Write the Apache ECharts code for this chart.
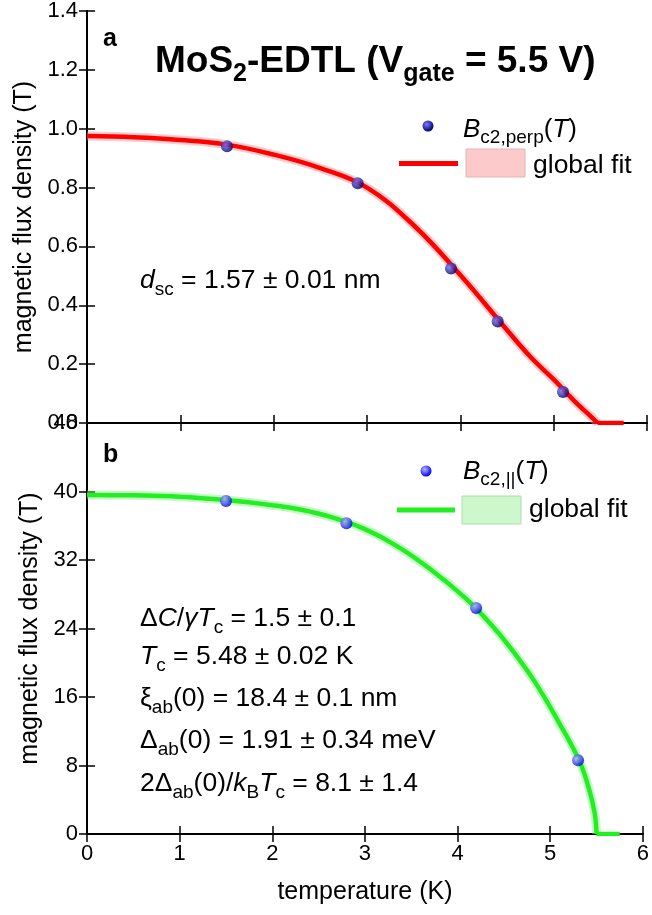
<!DOCTYPE html>
<html>
<head>
<meta charset="utf-8">
<script src="https://cdn.jsdelivr.net/npm/echarts@6/dist/echarts.min.js"></script>
<style>
  html, body { margin: 0; padding: 0; background: #fff; }
  #chart { width: 652px; height: 915px; }
</style>
</head>
<body>
<div id="chart"></div>
<script>
// measured points, panel a (perpendicular field)
var perpT = [1.5, 2.9, 3.9, 4.4, 5.1];
var perpB = [0.94, 0.815, 0.525, 0.345, 0.105];
// global fit curve, panel a
var fitPerpT = [0, 0.5, 1, 1.5, 2, 2.5, 3, 3.5, 4, 4.5, 4.75, 5, 5.1, 5.25, 5.4, 5.47];
var fitPerpB = [0.975, 0.971, 0.962, 0.946, 0.912, 0.866, 0.80, 0.672, 0.503, 0.316, 0.225, 0.148, 0.115, 0.066, 0.022, 0];
var tailPerpT = [5.47, 5.75];
var tailPerpB = [0, 0];

// measured points, panel b (parallel field)
var parT = [1.5, 2.8, 4.2, 5.3];
var parB = [38.9, 36.3, 26.4, 8.6];
// global fit curve, panel b
var fitParT = [0, 0.5, 1, 1.5, 2, 2.3, 2.64, 3.0, 3.35, 3.71, 4.07, 4.3, 4.53, 4.82, 5.1, 5.32, 5.42, 5.48, 5.5];
var fitParB = [39.6, 39.55, 39.4, 39.0, 38.4, 37.9, 37.0, 35.6, 33.6, 30.9, 27.7, 25.2, 22.3, 18.0, 12.9, 8.4, 5.2, 2.4, 0];
var tailParT = [5.5, 5.75];
var tailParB = [0, 0];

// ticks
var tempTicks = [0, 6, 1];      // min, max, step
var perpTicks = [0, 1.4, 0.2];
var parTicks = [0, 48, 8];

var FONT = '"Liberation Sans", Arial, sans-serif';

function pairs(xs, ys) {
  return xs.map(function (x, i) { return [x, ys[i]]; });
}

var chart = echarts.init(document.getElementById('chart'));

var line = { show: true, lineStyle: { color: '#000', width: 2 } };
var tick = { show: true, inside: true, length: 8, lineStyle: { color: '#000', width: 1.5 } };

function xAx(grid, pos, labels) {
  return {
    type: 'value', gridIndex: grid, position: pos,
    min: tempTicks[0], max: tempTicks[1], interval: tempTicks[2],
    axisLine: line, axisTick: tick, splitLine: { show: false },
    axisLabel: { show: labels, color: '#000', fontFamily: FONT, fontSize: 22, margin: 9 },
    name: labels ? 'temperature (K)' : '', nameLocation: 'middle', nameGap: 46,
    nameTextStyle: { color: '#000', fontFamily: FONT, fontSize: 25 }
  };
}
function yAx(grid, pos, t, labels, fmt) {
  return {
    type: 'value', gridIndex: grid, position: pos,
    min: t[0], max: t[1], interval: t[2],
    axisLine: line, axisTick: tick, splitLine: { show: false },
    axisLabel: { show: labels, color: '#000', fontFamily: FONT, fontSize: 22, margin: 9,
      showMinLabel: true, showMaxLabel: true, formatter: fmt },
    name: labels ? 'magnetic flux density (T)' : '', nameLocation: 'middle', nameGap: 44,
    nameTextStyle: { color: '#000', fontFamily: FONT, fontSize: 25 }
  };
}

function ball(dark, light) {
  return {
    type: 'radial', x: 0.38, y: 0.35, r: 0.65,
    colorStops: [{ offset: 0, color: light }, { offset: 1, color: dark }]
  };
}
var navyBall = ball('#000070', '#7a7aff');
var blueBall = ball('#0000ee', '#b8b8ff');

// rich text helper: baseline y given, main size S, sub size s, line height L
function rtext(x, base, text, S, s, L, bold) {
  var w = bold ? 'bold' : 'normal';
  return {
    type: 'text', x: x, y: base - (L / 2 + 0.31 * S), silent: true,
    style: {
      text: text, align: 'left', verticalAlign: 'top',
      textAlign: 'left', textVerticalAlign: 'top',
      rich: {
        n: { fontFamily: FONT, fontSize: S, fontWeight: w, lineHeight: L, verticalAlign: 'middle', color: '#000' },
        i: { fontFamily: FONT, fontSize: S, fontWeight: w, fontStyle: 'italic', lineHeight: L, verticalAlign: 'middle', color: '#000' },
        s: { fontFamily: FONT, fontSize: s, fontWeight: w, lineHeight: s, verticalAlign: 'bottom', color: '#000' }
      }
    }
  };
}

var graphics = [
  rtext(103, 47, '{n|a}', 25, 16, 30, true),
  rtext(155, 73, '{n|MoS}{s|2}{n|-EDTL (V}{s|gate}{n| = 5.5 V)}', 37, 25, 50, true),
  // legend a
  { type: 'circle', shape: { cx: 428, cy: 126, r: 5.5 }, style: { fill: navyBall }, silent: true },
  rtext(463, 138, '{i|B}{s|c2,perp}{n|(}{i|T}{n|)}', 26, 19, 34),
  { type: 'line', shape: { x1: 399, y1: 163.5, x2: 458, y2: 163.5 }, style: { stroke: '#ff0000', lineWidth: 5 }, silent: true },
  { type: 'rect', shape: { x: 466, y: 149, width: 59, height: 28 }, style: { fill: '#fccaca', stroke: '#e2b4b4', lineWidth: 1 }, silent: true },
  rtext(533, 174, '{n|global fit}', 26.5, 16, 30),
  rtext(140, 289, '{i|d}{s|sc}{n| = 1.57 \u00b1 0.01 nm}', 26.5, 19, 36),

  rtext(103, 463, '{n|b}', 25, 16, 30, true),
  // legend b
  { type: 'circle', shape: { cx: 426, cy: 471, r: 5.5 }, style: { fill: blueBall }, silent: true },
  rtext(463, 480, '{i|B}{s|c2,||}{n|(}{i|T}{n|)}', 26, 19, 34),
  { type: 'line', shape: { x1: 397, y1: 510, x2: 455, y2: 510 }, style: { stroke: '#22ee22', lineWidth: 5 }, silent: true },
  { type: 'rect', shape: { x: 462, y: 496, width: 59, height: 28 }, style: { fill: '#ccf8cc', stroke: '#b0dcb0', lineWidth: 1 }, silent: true },
  rtext(529, 518, '{n|global fit}', 26.5, 16, 30),

  rtext(140, 627, '{n|\u0394}{i|C}{n|/}{i|\u03b3T}{s|c}{n| = 1.5 \u00b1 0.1}', 26.5, 19, 36),
  rtext(140, 665, '{i|T}{s|c}{n| = 5.48 \u00b1 0.02 K}', 26.5, 19, 36),
  rtext(140, 707, '{n|\u03be}{s|ab}{n|(0) = 18.4 \u00b1 0.1 nm}', 26.5, 19, 36),
  rtext(140, 749, '{n|\u0394}{s|ab}{n|(0) = 1.91 \u00b1 0.34 meV}', 26.5, 19, 36),
  rtext(140, 792, '{n|2\u0394}{s|ab}{n|(0)/}{i|k}{s|B}{i|T}{s|c}{n| = 8.1 \u00b1 1.4}', 26.5, 19, 36)
];

function fitSeries(xi, yi, data, color, width, z) {
  return { type: 'line', xAxisIndex: xi, yAxisIndex: yi, data: data,
    showSymbol: false, smooth: 0.4, silent: true, z: z,
    lineStyle: { color: color, width: width } };
}

var option = {
  animation: false,
  backgroundColor: '#fff',
  grid: [
    { left: 87, right: 5, top: 11, height: 412 },
    { left: 87, right: 5, top: 423, height: 411 }
  ],
  xAxis: [
    xAx(0, 'bottom', false),
    xAx(0, 'top', false),
    xAx(1, 'bottom', true),
    xAx(1, 'top', false)
  ],
  yAxis: [
    yAx(0, 'left', perpTicks, true, function (v) { return v.toFixed(1); }),
    yAx(0, 'right', perpTicks, false),
    yAx(1, 'left', parTicks, true, function (v) { return String(v); }),
    yAx(1, 'right', parTicks, false)
  ],
  series: [
    fitSeries(0, 0, pairs(fitPerpT, fitPerpB), 'rgba(255,140,140,0.45)', 9, 1),
    fitSeries(0, 0, pairs(fitPerpT, fitPerpB), '#ff0000', 4.5, 2),
    fitSeries(0, 0, pairs(tailPerpT, tailPerpB), '#ff0000', 4.5, 2),
    { type: 'scatter', xAxisIndex: 0, yAxisIndex: 0, data: pairs(perpT, perpB),
      symbolSize: 12, z: 3, itemStyle: { color: navyBall } },

    fitSeries(2, 2, pairs(fitParT, fitParB), 'rgba(120,240,120,0.4)', 9, 1),
    fitSeries(2, 2, pairs(fitParT, fitParB), '#22ee22', 4.5, 2),
    fitSeries(2, 2, pairs(tailParT, tailParB), '#22ee22', 4.5, 2),
    { type: 'scatter', xAxisIndex: 2, yAxisIndex: 2, data: pairs(parT, parB),
      symbolSize: 12, z: 3, itemStyle: { color: blueBall } }
  ],
  graphic: graphics
};

chart.setOption(option);
</script>
</body>
</html>
